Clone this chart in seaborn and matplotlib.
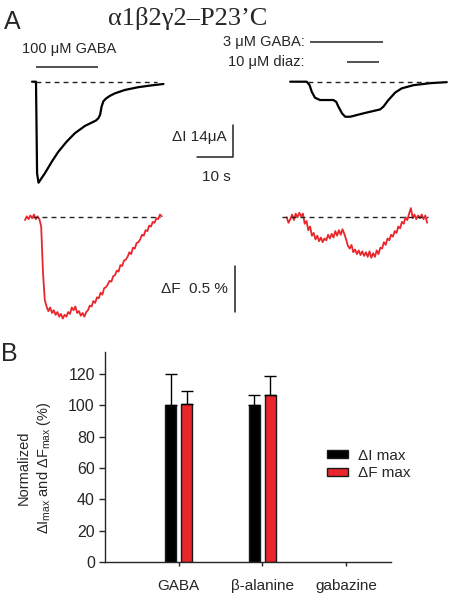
import numpy as np
import pandas as pd
import seaborn as sns
import matplotlib.pyplot as plt

# ---- panel A: two-electrode currents (time s, current uA) ----
gaba100_t = [-1.1, 0.0, 0.3, 0.7, 2.5, 4.4, 6.2, 8.5, 10.8, 13.6, 16.6, 17.3, 17.8,
             18.2, 18.7, 19.4, 20.5, 21.9, 24.7, 28.4, 32.1, 35.4]
gaba100_i = [0.0, 0.0, -40.0, -44.1, -39.9, -34.9, -30.6, -26.2, -22.5, -19.3, -17.0, -16.0, -14.5,
             -11.0, -8.6, -7.4, -6.2, -5.1, -3.6, -2.4, -1.6, -1.0]
gaba100_on = (0.0, 17.3)

gaba3_t = [0.0, 4.6, 5.4, 6.0, 6.9, 8.3, 12.0, 12.8, 13.4, 14.4, 15.3, 16.7, 20.4, 25.0,
           25.9, 27.3, 29.2, 31.0, 34.3, 39.2, 43.5]
gaba3_i = [0.0, 0.0, -1.5, -4.4, -7.0, -8.0, -8.0, -8.8, -10.9, -13.8, -15.3, -15.3, -13.8, -12.1,
           -10.9, -8.0, -4.7, -2.9, -1.5, -0.6, -0.2]
gaba3_on = (5.6, 25.8)
diaz_on = (15.8, 24.7)

# ---- panel A: fluorescence (dF, %), sampled every 0.5 s ----
fluor_dt = 0.5
fluor_gaba100 = [-0.03, 0.01, -0.02, 0.02, -0.01, 0.03, -0.02, 0.01, -0.02, -0.10,
                 -0.60, -0.90, -0.97, -1.02, -0.98, -1.04, -1.01, -1.06, -1.03, -1.08,
                 -1.05, -1.10, -1.06, -1.08, -1.03, -1.05, -0.98, -1.01, -0.97, -1.04,
                 -1.02, -1.07, -1.04, -1.08, -1.03, -1.01, -0.96, -0.97, -0.91, -0.93,
                 -0.87, -0.88, -0.82, -0.84, -0.77, -0.76, -0.73, -0.69, -0.70, -0.64,
                 -0.63, -0.58, -0.59, -0.52, -0.53, -0.47, -0.46, -0.43, -0.38, -0.40,
                 -0.33, -0.34, -0.28, -0.27, -0.24, -0.19, -0.20, -0.14, -0.15, -0.09,
                 -0.10, -0.05, -0.06, -0.01, -0.02, 0.03, 0.01]
fluor_gaba3 = [0.00, -0.06, -0.02, 0.03, -0.03, 0.04, 0.00, 0.05, 0.01, 0.04,
               -0.07, -0.04, -0.14, -0.10, -0.20, -0.17, -0.24, -0.20, -0.26, -0.22,
               -0.27, -0.23, -0.25, -0.19, -0.23, -0.18, -0.22, -0.15, -0.20, -0.14,
               -0.19, -0.13, -0.18, -0.24, -0.31, -0.34, -0.30, -0.38, -0.35, -0.40,
               -0.36, -0.41, -0.37, -0.42, -0.38, -0.43, -0.37, -0.44, -0.39, -0.43,
               -0.36, -0.40, -0.33, -0.34, -0.27, -0.30, -0.23, -0.25, -0.19, -0.21,
               -0.15, -0.17, -0.10, -0.12, -0.05, -0.07, 0.00, -0.03, 0.04, 0.10,
               -0.01, 0.03, -0.02, 0.02, -0.01, 0.03, -0.02, 0.02, -0.06]

# ---- panel B ----
agents = ["GABA", "β-alanine", "gabazine"]
dI_max = [100, 100, 0]
dI_err = [19.5, 6.5, 0]
dF_max = [101, 106.5, 0]
dF_err = [8, 12, 0]

W, H = 456, 596
PX_S = 3.6      # px per s
PX_UA = 2.29    # px per uA
PX_PCT = 92.0   # px per % dF
RED = "#e8262b"
INK = "#222222"


def fig_box(x0, y0, x1, y1):
    return [x0 / W, 1 - y1 / H, (x1 - x0) / W, (y1 - y0) / H]


def fxy(x, y):
    return x / W, 1 - y / H


sns.set_style("ticks")
plt.rcParams['font.family'] = ['Liberation Sans', 'DejaVu Sans']
plt.rcParams['mathtext.fontset'] = 'custom'
plt.rcParams['mathtext.rm'] = 'Liberation Sans'
plt.rcParams['mathtext.it'] = 'Liberation Sans:italic'

fig = plt.figure(figsize=(W / 100, H / 100), dpi=100)

# current row
axI = fig.add_axes(fig_box(0, 30, W, 200))
axI.set_xlim(0, W / PX_S)
axI.set_ylim(-(200 - 81.7) / PX_UA, (81.7 - 30) / PX_UA)
axI.axis('off')

t_left, t_right = 10.0, 80.6
sns.lineplot(x=np.array(gaba100_t) + t_left, y=gaba100_i, ax=axI, color='black',
             lw=1.6, estimator=None, sort=False)
sns.lineplot(x=np.array(gaba3_t) + t_right, y=gaba3_i, ax=axI, color='black',
             lw=1.6, estimator=None, sort=False)
dash = (0, (3.5, 3))
axI.hlines(0, t_left, t_left + 33.6, colors=INK, linestyles=dash, lw=1)
axI.hlines(0, t_right + 5.0, t_right + 39.7, colors=INK, linestyles=dash, lw=1)
axI.hlines(6.55, t_left + gaba100_on[0], t_left + gaba100_on[1], colors=INK, lw=1.1)
axI.hlines(17.3, t_right + gaba3_on[0], t_right + gaba3_on[1], colors=INK, lw=1.1)
axI.hlines(8.6, t_right + diaz_on[0], t_right + diaz_on[1], colors=INK, lw=1.1)
# scale bar 10 s / 14 uA
sb_t, sb_i = 64.6, -32.75
axI.plot([sb_t - 10, sb_t, sb_t], [sb_i, sb_i, sb_i + 14], color=INK, lw=1.1)

# fluorescence row
axF = fig.add_axes(fig_box(0, 200, W, 330))
axF.set_xlim(0, W / PX_S)
axF.set_ylim(-(330 - 217.3) / PX_PCT, (217.3 - 200) / PX_PCT)
axF.axis('off')

tf_left, tf_right = 6.94, 79.64
sns.lineplot(x=np.arange(len(fluor_gaba100)) * fluor_dt + tf_left, y=fluor_gaba100, ax=axF,
             color=RED, lw=1.3, estimator=None, sort=False)
sns.lineplot(x=np.arange(len(fluor_gaba3)) * fluor_dt + tf_right, y=fluor_gaba3, ax=axF,
             color=RED, lw=1.3, estimator=None, sort=False)
axF.hlines(0, 9.17, 44.4, colors=INK, linestyles=dash, lw=1, zorder=3)
axF.hlines(0, 78.25, 118.9, colors=INK, linestyles=dash, lw=1, zorder=3)
axF.plot([65.3, 65.3], [-1.03, -0.53], color=INK, lw=1.1)

# panel A text
fig.text(*fxy(4, 22), "A", fontsize=18, ha='left', va='center')
fig.text(*fxy(188, 18), "α1β2γ2–P23’C", family=['Liberation Serif', 'DejaVu Serif'],
         fontsize=19, ha='center', va='center')
fig.text(*fxy(69, 49), "100 μM GABA", fontsize=10.5, ha='center', va='center')
fig.text(*fxy(305, 42), "3 μM GABA:", fontsize=10.5, ha='right', va='center')
fig.text(*fxy(305, 62), "10 μM diaz:", fontsize=10.5, ha='right', va='center')
fig.text(*fxy(227, 137), "ΔI 14μA", fontsize=11, ha='right', va='center')
fig.text(*fxy(216, 177), "10 s", fontsize=11, ha='center', va='center')
fig.text(*fxy(228, 289), "ΔF  0.5 %", fontsize=11, ha='right', va='center')

# panel B
axB = fig.add_axes(fig_box(105, 351.7, 391, 562.3))
df = pd.DataFrame({
    'agent': agents * 2,
    'measure': ['ΔI max'] * len(agents) + ['ΔF max'] * len(agents),
    'value': dI_max + dF_max,
})
sns.barplot(df, x='agent', y='value', hue='measure', order=agents,
            palette=['black', RED], saturation=1, width=0.38, gap=0.3,
            edgecolor='#1a1a1a', linewidth=1, errorbar=None, ax=axB)
for cont, errs in zip(axB.containers, [dI_err, dF_err]):
    for bar, e in zip(cont, errs):
        if bar.get_height() == 0:
            bar.set_visible(False)
        if e > 0:
            axB.errorbar(bar.get_x() + bar.get_width() / 2, bar.get_height(),
                         yerr=[[0], [e]], fmt='none', ecolor='black',
                         elinewidth=1, capsize=4, capthick=1)

axB.set_xlim(-0.88, 2.54)
axB.set_ylim(0, 134)
axB.set_yticks(range(0, 121, 20))
sns.despine(ax=axB)
for s in ['left', 'bottom']:
    axB.spines[s].set_linewidth(1)
axB.tick_params(axis='y', length=4.3, width=1, pad=3, labelsize=11.5)
axB.tick_params(axis='x', length=3, width=1, pad=9, labelsize=11)
axB.set_xlabel('')
axB.set_ylabel("Normalized\nΔI$_{\\mathrm{max}}$ and ΔF$_{\\mathrm{max}}$ (%)",
               fontsize=10.5, linespacing=1.3)
axB.yaxis.set_label_coords(-0.182, 0.45)
axB.legend(loc='center left', bbox_to_anchor=(0.776, 0.464), frameon=False,
           fontsize=11, handlelength=1.4, handleheight=0.45, handletextpad=0.65,
           labelspacing=0.25, borderpad=0, borderaxespad=0)

fig.text(*fxy(1, 354), "B", fontsize=18, ha='left', va='center')

fig.savefig('out.png', dpi=100)
